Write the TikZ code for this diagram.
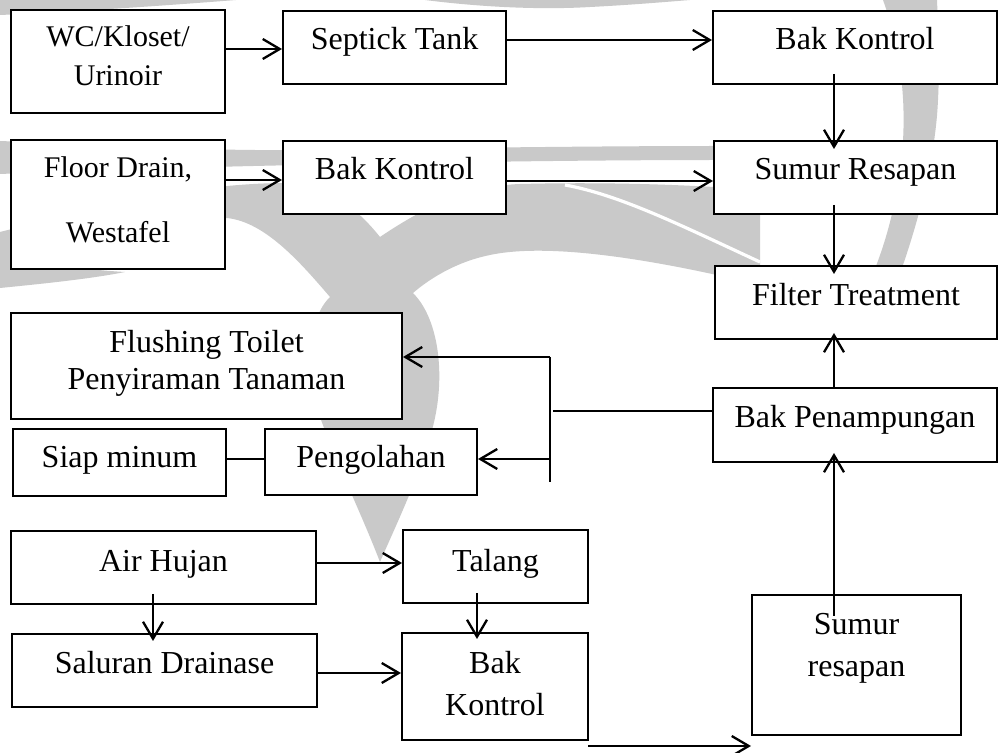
\documentclass[tikz,border=0pt]{standalone}
\usepackage{fontspec}
\setmainfont{Liberation Serif}
\usetikzlibrary{arrows.meta,calc}
\definecolor{wmgray}{RGB}{201,201,201}
\begin{document}
\begin{tikzpicture}[x=0.5pt,y=-0.5pt,
  box/.style={draw=black, line width=1pt, fill=white, inner sep=0pt, align=center,
    font=\fontsize{16}{19}\selectfont, text height=12pt},
  arr/.style={line width=1.15pt, -{Straight Barb[length=8.5pt,width=10pt]}},
  link/.style={line width=1.15pt},
  wm/.style={fill=wmgray, draw=none}]
\useasboundingbox (0,0) rectangle (998,753);
\fill[white] (0,0) rectangle (998,753);

% light grey emblem in the background
\fill[wm] (0,0) -- (236,0) .. controls (160,6) and (70,12) .. (0,15) -- cycle;
\fill[wm] (425,0) .. controls (480,7) and (540,10) .. (590,7) .. controls (630,5) and (665,2) .. (690,0) -- cycle;
\fill[wm] (883,0) .. controls (905,60) and (910,130) .. (895,200) .. controls (887,240) and (876,268) .. (862,300)
  -- (890,300) .. controls (910,250) and (935,170) .. (938,100) .. controls (940,60) and (938,25) .. (937,0) -- cycle;
\fill[wm] (0,141) .. controls (100,145) and (200,151) .. (300,150) .. controls (450,148) and (600,146) .. (720,146)
  -- (720,160) .. controls (600,160) and (450,162) .. (300,165) .. controls (200,167) and (100,170) .. (0,174) -- cycle;
\fill[wm] (0,232) .. controls (80,212) and (180,184) .. (283,183)
  .. controls (330,184) and (360,212) .. (380,237)
  .. controls (420,210) and (465,186) .. (520,184)
  .. controls (600,182) and (680,184) .. (760,190)
  -- (760,285)
  .. controls (690,268) and (560,240) .. (490,255)
  .. controls (455,262) and (428,280) .. (413,293)
  .. controls (440,320) and (446,380) .. (432,430)
  .. controls (418,480) and (396,525) .. (380,562)
  .. controls (362,515) and (336,462) .. (320,417)
  .. controls (305,370) and (308,318) .. (330,297)
  .. controls (300,262) and (265,222) .. (227,218)
  .. controls (150,224) and (60,250) .. (0,262) -- cycle;
\draw[white, line width=1.6pt] (565,185) .. controls (620,195) and (680,225) .. (760,262);
\fill[wm] (0,258) .. controls (40,264) and (90,270) .. (125,272) .. controls (90,279) and (40,284) .. (0,288) -- cycle;

% boxes
\node[box, minimum width=107pt, minimum height=51.5pt, text height=30pt, text depth=5.5pt, font=\fontsize{15}{19.5}\selectfont] (wc) at (118,61.5) {WC/Kloset/\\Urinoir};
\node[box, minimum width=111.5pt, minimum height=36.5pt, text depth=9.5pt] (st) at (394.5,47.5) {Septick Tank};
\node[box, minimum width=142pt, minimum height=36.5pt, text depth=9.5pt] (bk1) at (855,47.5) {Bak Kontrol};
\node[box, minimum width=107pt, minimum height=64.5pt, text height=45pt, text depth=6.5pt, font=\fontsize{15}{32.5}\selectfont] (fd) at (118,204.5) {Floor Drain,\\Westafel};
\node[box, minimum width=111.5pt, minimum height=36.5pt, text depth=9.5pt] (bk2) at (394.5,177.5) {Bak Kontrol};
\node[box, minimum width=141.5pt, minimum height=36.5pt, text depth=9.5pt] (sr) at (855.5,177.5) {Sumur Resapan};
\node[box, minimum width=141pt, minimum height=36.5pt, text depth=8.5pt] (ft) at (856,302.5) {Filter Treatment};
\node[box, minimum width=195.5pt, minimum height=53pt, text height=30pt, text depth=6pt, font=\fontsize{16}{18.5}\selectfont] (fl) at (206.5,366) {Flushing Toilet\\Penyiraman Tanaman};
\node[box, minimum width=106.5pt, minimum height=33.5pt, text depth=6.5pt] (sm) at (119.5,462.5) {Siap minum};
\node[box, minimum width=106pt, minimum height=33pt, text depth=6pt] (pg) at (371,462) {Pengolahan};
\node[box, minimum width=142pt, minimum height=37pt, text depth=9pt] (bp) at (855,425) {Bak Penampungan};
\node[box, minimum width=152.5pt, minimum height=36.5pt, text depth=7.5pt] (ah) at (163.5,567.5) {Air Hujan};
\node[box, minimum width=152.5pt, minimum height=36.5pt, text depth=8.5pt] (sd) at (164.5,670.5) {Saluran Drainase};
\node[box, minimum width=92.5pt, minimum height=36.5pt, text depth=6.5pt] (tl) at (495.5,566.5) {Talang};
\node[box, minimum width=93pt, minimum height=53.5pt, text height=35pt, text depth=5.5pt, font=\fontsize{16}{21}\selectfont] (bk3) at (495,686.5) {Bak\\Kontrol};
\node[box, minimum width=104.5pt, minimum height=70pt, text height=20pt, text depth=8pt, font=\fontsize{16}{21}\selectfont] (sw) at (856.5,665) {Sumur\\resapan};

% junction points of the distribution branch
\coordinate (colR) at (834,0);
\coordinate (jtop) at (550,357);
\coordinate (jmid) at (550,459);
\coordinate (jbot) at (550,482);

% connectors
\draw[arr] ($(wc.east)+(0,-12.5)$) coordinate (c1) -- (c1 -| st.west);
\draw[arr] ($(st.east)+(0,-7.5)$) coordinate (c2) -- (c2 -| bk1.west);
\draw[arr] ($(bk1.south -| colR)+(0,-11)$) -- ($(sr.north -| colR)+(0,9)$);
\draw[arr] ($(fd.east)+(0,-24.5)$) coordinate (c3) -- (c3 -| bk2.west);
\draw[arr] ($(bk2.east)+(0,3.5)$) coordinate (c4) -- (c4 -| sr.west);
\draw[arr] ($(sr.south -| colR)+(0,-10)$) -- ($(ft.north -| colR)+(0,9)$);
\draw[arr] (bp.north -| colR) -- ($(ft.south -| colR)+(0,-7)$);
\draw[arr] ($(sw.north -| colR)+(0,22)$) -- ($(bp.south -| colR)+(0,-10)$);
\draw[link] ($(bp.west)+(0,-14)$) coordinate (c5) -- ($(c5 -| jtop)+(3,0)$);
\draw[link] (jtop) -- (jbot);
\draw[arr] (jtop) -- (jtop -| fl.east);
\draw[arr] (jmid) -- (jmid -| pg.east);
\draw[link] ($(sm.east)+(0,-3.5)$) coordinate (c6) -- (c6 -| pg.west);
\draw[arr] ($(ah.east)+(0,-4.5)$) coordinate (c7) -- (c7 -| tl.west);
\draw[arr] ($(ah.south)+(-10.5,-11)$) coordinate (c8) -- ($(c8 |- sd.north)+(0,8)$);
\draw[arr] ($(tl.south)+(-18.5,-11)$) coordinate (c9) -- ($(c9 |- bk3.north)+(0,7)$);
\draw[arr] ($(sd.east)+(0,2.5)$) coordinate (c10) -- (c10 -| bk3.west);
\draw[arr] ($(bk3.south east)+(-1,5)$) coordinate (c11) -- (c11 -| sw.west);
\end{tikzpicture}
\end{document}
